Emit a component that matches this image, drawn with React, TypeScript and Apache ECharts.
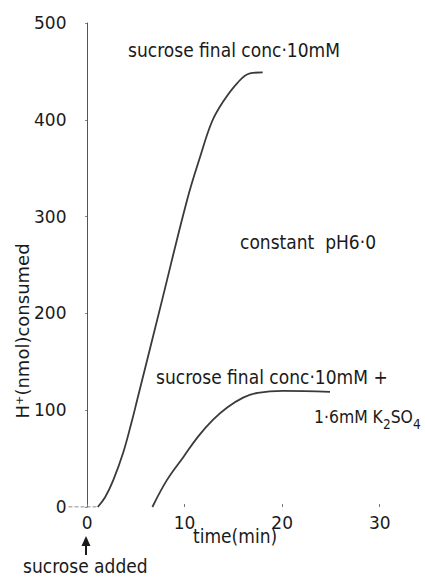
import React, { useEffect, useRef } from "react";
import * as echarts from "echarts";

// Proton uptake after sucrose addition (constant pH 6.0)
const timeTicks = [0, 10, 20, 30];
const valueTicks = [0, 100, 200, 300, 400, 500];

// short dashed pre-addition baseline
const baselineTime = [-1.9, 1.1];
const baselineValue = [0, 0];

// sucrose final conc. 10 mM
const sucroseTime = [1.1, 1.85, 2.7, 3.7, 4.55, 5.15, 7.7, 10.25, 11.6, 12.8, 13.9, 15.4, 16.7, 18.0];
const sucroseValue = [0, 10, 28, 56, 87, 111, 214, 317, 362, 398, 418, 438, 448, 449];

// sucrose final conc. 10 mM + 1.6 mM K2SO4
const sulfateTime = [6.7, 8.2, 9.9, 11.4, 12.9, 14.4, 16.0, 17.5, 20.1, 24.9];
const sulfateValue = [0, 28, 52, 73, 90, 103, 113, 118, 120, 119];

const FONT = "'DejaVu Sans', sans-serif";
const INK = "#1a1a1a";
const LINE = "#3a3a3a";

const pairs = (xs: number[], ys: number[]) => xs.map((x, i) => [x, ys[i]]);

export default function App() {
  const ref = useRef<HTMLDivElement>(null);

  useEffect(() => {
    if (!ref.current) return;
    const chart = echarts.init(ref.current, undefined, { renderer: "svg" });

    // annotation text: slightly condensed, tall lettering
    const note = (
      t: string,
      x: number,
      y: number,
      size = 19,
      squeeze = 0.9,
      rich?: Record<string, unknown>
    ) => ({
      type: "text",
      x,
      y,
      scaleX: squeeze,
      style: {
        text: t,
        font: `${size}px ${FONT}`,
        fill: INK,
        textAlign: "left",
        textVerticalAlign: "middle",
        ...(rich ? { rich } : {}),
      },
    });

    const subscript = {
      sub: {
        fontSize: 14,
        fontFamily: FONT,
        fill: INK,
        padding: [15, 0, 0, 0],
      },
    };

    chart.setOption({
      animation: false,
      backgroundColor: "#ffffff",
      grid: { left: 68.5, right: 16, top: 23, bottom: 71, containLabel: false },
      xAxis: {
        type: "value",
        min: -1.9,
        max: 33,
        axisLine: { show: false },
        splitLine: { show: false },
        axisTick: {
          show: true,
          inside: true,
          length: 3,
          customValues: timeTicks,
          lineStyle: { color: "#777" },
        },
        axisLabel: {
          customValues: timeTicks,
          margin: 7,
          fontSize: 17,
          fontFamily: FONT,
          color: INK,
        },
      },
      yAxis: {
        type: "value",
        min: 0,
        max: 500,
        interval: 100,
        axisLine: { show: true, lineStyle: { color: "#555", width: 1 } },
        axisTick: { show: true, inside: false, length: 2, lineStyle: { color: "#888" } },
        splitLine: { show: false },
        axisLabel: {
          customValues: valueTicks,
          margin: 2,
          fontSize: 17,
          fontFamily: FONT,
          color: INK,
        },
      },
      series: [
        {
          type: "line",
          data: pairs(baselineTime, baselineValue),
          symbol: "none",
          lineStyle: { color: "#666", width: 1, type: [4, 2] },
        },
        {
          type: "line",
          data: pairs(sucroseTime, sucroseValue),
          symbol: "none",
          smooth: 0.4,
          lineStyle: { color: LINE, width: 1.8 },
        },
        {
          type: "line",
          data: pairs(sulfateTime, sulfateValue),
          symbol: "none",
          smooth: 0.4,
          lineStyle: { color: LINE, width: 1.8 },
        },
      ],
      graphic: [
        note("sucrose final conc·10mM", 128, 50),
        note("constant  pH6·0", 240, 242),
        note("sucrose final conc·10mM +", 156, 377),
        note("1·6mM K{sub|2}SO{sub|4}", 314, 417, 18, 0.87, subscript),
        note("time(min)", 193, 536),
        note("sucrose added", 23, 566),
        {
          type: "text",
          x: 22,
          y: 331,
          rotation: Math.PI / 2,
          style: {
            text: "H⁺(nmol)consumed",
            font: `18px ${FONT}`,
            fill: INK,
            textAlign: "center",
            textVerticalAlign: "middle",
          },
        },
        {
          type: "group",
          children: [
            {
              type: "line",
              shape: { x1: 86, y1: 555, x2: 86, y2: 544 },
              style: { stroke: INK, lineWidth: 2 },
            },
            {
              type: "polygon",
              shape: { points: [[86, 536], [81.5, 546], [90.5, 546]] },
              style: { fill: INK },
            },
          ],
        },
      ],
    });

    return () => chart.dispose();
  }, []);

  return (
    <div
      ref={ref}
      style={{ position: "fixed", left: 0, top: 0, width: 425, height: 578 }}
    />
  );
}
